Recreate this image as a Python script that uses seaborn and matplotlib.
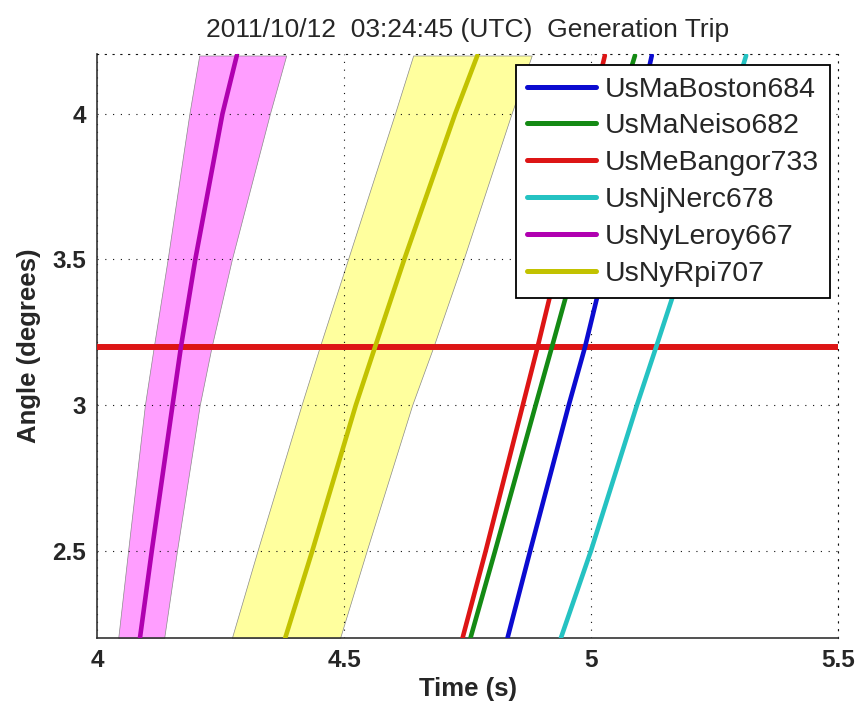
import numpy as np
import pandas as pd
import seaborn as sns
import matplotlib
matplotlib.use("Agg")
from matplotlib import pyplot as plt

angle = [2.2, 2.5, 3.0, 3.2, 3.5, 4.0, 4.2]

# time (s) of each station trace at the angle levels above
stations = ["UsMaBoston684", "UsMaNeiso682", "UsMeBangor733",
            "UsNjNerc678", "UsNyLeroy667", "UsNyRpi707"]
t_boston = [4.831, 4.877, 4.955, 4.988, 5.031, 5.097, 5.123]
t_neiso = [4.756, 4.806, 4.888, 4.921, 4.970, 5.053, 5.089]
t_bangor = [4.740, 4.787, 4.862, 4.892, 4.935, 5.000, 5.028]
t_nerc = [4.939, 5.000, 5.093, 5.132, 5.190, 5.278, 5.314]
t_leroy = [4.087, 4.111, 4.153, 4.170, 4.199, 4.254, 4.283]
t_rpi = [4.381, 4.436, 4.524, 4.563, 4.622, 4.725, 4.770]

# uncertainty bands (time limits) for Leroy and Rpi
leroy_lo = [4.043, 4.063, 4.097, 4.115, 4.143, 4.187, 4.207]
leroy_hi = [4.136, 4.162, 4.208, 4.232, 4.273, 4.350, 4.383]
rpi_lo = [4.273, 4.325, 4.414, 4.451, 4.508, 4.603, 4.640]
rpi_hi = [4.492, 4.546, 4.638, 4.681, 4.742, 4.839, 4.880]

threshold = 3.2  # trip angle

colors = ["#0b0bd0", "#148a14", "#dd1515", "#25c2c2", "#b000b0", "#c2c200"]
band_colors = {"UsNyLeroy667": "#ff9eff", "UsNyRpi707": "#ffff9e"}

traces = [t_boston, t_neiso, t_bangor, t_nerc, t_leroy, t_rpi]
df = pd.concat([pd.DataFrame({"time": t, "angle": angle, "station": s})
                for s, t in zip(stations, traces)], ignore_index=True)

sns.set_style("white")
plt.rcParams['font.family'] = ['Liberation Sans', 'DejaVu Sans']

fig = plt.figure(figsize=(8.59, 7.11), dpi=100)
ax = fig.add_axes([0.1129, 0.1027, 0.8627, 0.8213])

# bands first so grid and lines sit on top
for s, lo, hi in [("UsNyLeroy667", leroy_lo, leroy_hi), ("UsNyRpi707", rpi_lo, rpi_hi)]:
	ax.fill_betweenx(angle, lo, hi, facecolor=band_colors[s], edgecolor="#8a8a8a",
		linewidth=0.5, zorder=1)

sns.lineplot(data=df, x="time", y="angle", hue="station", hue_order=stations,
	palette=colors, sort=False, estimator=None, linewidth=3.3, ax=ax, zorder=3)
ax.axhline(threshold, color=colors[2], linewidth=4.3, zorder=2.8)

ax.set_xlim(4, 5.5)
ax.set_ylim(2.2, 4.205)
ax.set_xticks([4, 4.5, 5, 5.5])
ax.set_xticklabels(["4", "4.5", "5", "5.5"])
ax.set_yticks([2.5, 3, 3.5, 4])
ax.set_yticklabels(["2.5", "3", "3.5", "4"])

ax.set_axisbelow("line")
ax.grid(True, color="#111111", linestyle=(0, (1, 6)), linewidth=0.8)
for side in ["left", "bottom"]:
	ax.spines[side].set_color("#333333")
	ax.spines[side].set_linewidth(1.2)
for side in ["top", "right"]:
	ax.spines[side].set_color("#111111")
	ax.spines[side].set_linestyle((0, (1, 6)))
	ax.spines[side].set_linewidth(0.8)
ax.tick_params(direction="in", length=4.5, width=1.1, color="#333333",
	labelsize=17.5, pad=8, top=False, right=False)
for lab in ax.get_xticklabels() + ax.get_yticklabels():
	lab.set_fontweight("bold")

ax.set_xlabel("Time (s)", fontsize=18.5, fontweight="bold")
ax.set_ylabel("Angle (degrees)", fontsize=18.5, fontweight="bold")
ax.xaxis.set_label_coords(0.5, -0.066)
ax.yaxis.set_label_coords(-0.075, 0.5)
ax.set_title("2011/10/12  03:24:45 (UTC)  Generation Trip", fontsize=19, pad=12)

handles, labels = ax.get_legend_handles_labels()
leg = ax.legend(handles, labels, loc="upper right", bbox_to_anchor=(0.989, 0.981),
	borderaxespad=0, fontsize=20.5, frameon=True, fancybox=False, framealpha=1,
	edgecolor="black", handlelength=2.4, handletextpad=0.3, labelspacing=0.38,
	borderpad=0.4)
leg.get_frame().set_linewidth(1.3)
leg.set_zorder(10)
for h in leg.get_lines():
	h.set_linewidth(3.6)

fig.savefig("out.png", dpi=100)
